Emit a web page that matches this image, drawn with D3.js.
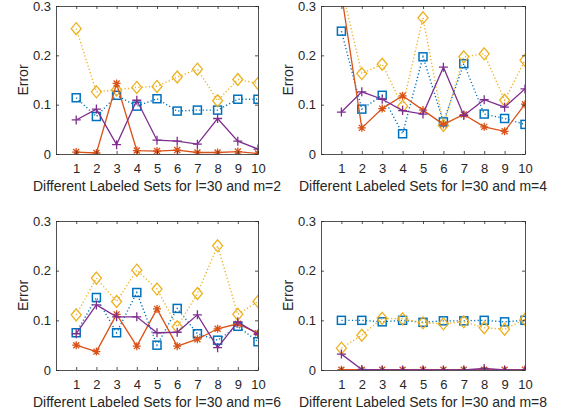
<!DOCTYPE html>
<meta charset="utf-8">
<script src="https://d3js.org/d3.v7.min.js"></script>
<html>
<style>
body { margin: 0; background: #fff; }
text { font-family: "Liberation Sans", Arial, sans-serif; fill: #262626; }
</style>
<body>
<svg id="chart" width="570" height="413"></svg>
<script>

// x positions (labeled sets) and y ticks
var sets = [1, 2, 3, 4, 5, 6, 7, 8, 9, 10];
var yTicks = [0, 0.1, 0.2, 0.3];

// m=2
var squareM2 = [0.114, 0.076, 0.119, 0.097, 0.112, 0.087, 0.089, 0.089, 0.111, 0.111];
var diamondM2 = [0.254, 0.126, 0.130, 0.135, 0.137, 0.156, 0.172, 0.108, 0.151, 0.143];
var starM2 = [0.004, 0.002, 0.143, 0.007, 0.006, 0.008, 0.003, 0.003, 0.005, 0.001];
var plusM2 = [0.069, 0.091, 0.019, 0.109, 0.028, 0.026, 0.020, 0.072, 0.026, 0.010];

// m=4
var squareM4 = [0.249, 0.091, 0.119, 0.041, 0.197, 0.065, 0.183, 0.081, 0.072, 0.060];
var diamondM4 = [0.338, 0.163, 0.182, 0.097, 0.276, 0.058, 0.197, 0.203, 0.109, 0.190];
var starM4 = [0.325, 0.053, 0.092, 0.118, 0.089, 0.060, 0.080, 0.055, 0.046, 0.101];
var plusM4 = [0.085, 0.126, 0.111, 0.088, 0.081, 0.176, 0.078, 0.110, 0.095, 0.132];

// m=6
var squareM6 = [0.075, 0.146, 0.075, 0.156, 0.050, 0.124, 0.073, 0.060, 0.088, 0.057];
var diamondM6 = [0.111, 0.185, 0.138, 0.201, 0.163, 0.087, 0.154, 0.250, 0.112, 0.138];
var starM6 = [0.050, 0.037, 0.112, 0.048, 0.123, 0.048, 0.062, 0.083, 0.093, 0.074];
var plusM6 = [0.073, 0.131, 0.107, 0.107, 0.075, 0.076, 0.111, 0.045, 0.097, 0.072];

// m=8
var squareM8 = [0.100, 0.100, 0.097, 0.100, 0.096, 0.099, 0.099, 0.100, 0.097, 0.100];
var diamondM8 = [0.044, 0.070, 0.104, 0.103, 0.095, 0.093, 0.097, 0.085, 0.082, 0.102];
var starM8 = [0.0005, 0.0005, 0.0005, 0.0005, 0.0005, 0.0005, 0.0005, 0.0005, 0.0005, 0.0005];
var plusM8 = [0.032, 0.001, 0.000, 0.000, 0.000, 0.000, 0.000, 0.003, 0.000, 0.000];

var panels = [
  {m: 2, x0: 56, x1: 258, y0: 6, y1: 154, sq: squareM2, di: diamondM2, st: starM2, pl: plusM2},
  {m: 4, x0: 321, x1: 525, y0: 6, y1: 154, sq: squareM4, di: diamondM4, st: starM4, pl: plusM4},
  {m: 6, x0: 56, x1: 258, y0: 221, y1: 370, sq: squareM6, di: diamondM6, st: starM6, pl: plusM6},
  {m: 8, x0: 321, x1: 525, y0: 221, y1: 370, sq: squareM8, di: diamondM8, st: starM8, pl: plusM8}
];

var svg = d3.select("#chart");
var axisCol = "#262626";

function marker(g, type, color) {
  if (type == "square") {
    g.append("rect").attr("x", -4).attr("y", -4).attr("width", 8).attr("height", 8)
      .attr("fill", "none").attr("stroke", color).attr("stroke-width", 1.5);
  } else if (type == "diamond") {
    g.append("path").attr("d", "M0,-6L5,0L0,6L-5,0Z")
      .attr("fill", "none").attr("stroke", color).attr("stroke-width", 1.3);
  } else if (type == "star") {
    g.append("path").attr("d", "M-4,0H4M0,-4V4M-3,-3L3,3M-3,3L3,-3")
      .attr("stroke", color).attr("stroke-width", 1.3);
  } else {
    g.append("path").attr("d", "M-4.5,0H4.5M0,-4.5V4.5")
      .attr("stroke", color).attr("stroke-width", 1.3);
  }
}

panels.forEach(function(p, i) {
  var x = d3.scaleLinear().domain([0, 10]).range([p.x0, p.x1]);
  var y = d3.scaleLinear().domain([0, 0.3]).range([p.y1, p.y0]);

  var clipId = "clip" + i;
  svg.append("clipPath").attr("id", clipId)
    .append("rect").attr("x", p.x0).attr("y", p.y0)
    .attr("width", p.x1 - p.x0).attr("height", p.y1 - p.y0);

  var series = [
    {vals: p.sq, color: "#0072BD", dash: "1.2,2.3", m: "square"},
    {vals: p.di, color: "#EDB120", dash: "1.2,2.3", m: "diamond"},
    {vals: p.st, color: "#D95319", dash: null, m: "star"},
    {vals: p.pl, color: "#7E2F8E", dash: null, m: "plus"}
  ];

  var plot = svg.append("g").attr("clip-path", "url(#" + clipId + ")");
  var line = d3.line().x(function(d, j) { return x(sets[j]); }).y(function(d) { return y(d); });

  series.forEach(function(s) {
    plot.append("path").datum(s.vals)
      .attr("d", line)
      .attr("fill", "none")
      .attr("stroke", s.color)
      .attr("stroke-width", s.dash ? 1.4 : 1.3)
      .attr("stroke-dasharray", s.dash);
    s.vals.forEach(function(v, j) {
      var g = plot.append("g").attr("transform", "translate(" + x(sets[j]) + "," + y(v) + ")");
      marker(g, s.m, s.color);
    });
  });

  // axes (box with inward ticks, like MATLAB)
  var ax = svg.append("g");
  ax.append("g").attr("transform", "translate(0," + p.y1 + ")")
    .call(d3.axisBottom(x).tickValues(sets).tickSizeInner(-3).tickSizeOuter(0).tickPadding(9.5));
  ax.append("g").attr("transform", "translate(0," + p.y0 + ")")
    .call(d3.axisTop(x).tickValues(sets).tickSizeInner(-3).tickSizeOuter(0).tickFormat(""));
  ax.append("g").attr("transform", "translate(" + p.x0 + ",0)")
    .call(d3.axisLeft(y).tickValues(yTicks).tickSizeInner(-3).tickSizeOuter(0).tickPadding(5)
      .tickFormat(function(d) { return d == 0 ? "0" : d3.format(".1f")(d); }));
  ax.append("g").attr("transform", "translate(" + p.x1 + ",0)")
    .call(d3.axisRight(y).tickValues(yTicks).tickSizeInner(-3).tickSizeOuter(0).tickFormat(""));

  ax.selectAll(".domain").attr("stroke", axisCol).attr("stroke-width", 0.8);
  ax.selectAll(".tick line").attr("stroke", axisCol).attr("stroke-width", 0.8);
  ax.selectAll(".tick text").attr("fill", axisCol).style("font-size", "13px")
    .style("font-family", "Liberation Sans, Arial, sans-serif");

  svg.append("text")
    .attr("x", (p.x0 + p.x1) / 2)
    .attr("y", p.y1 + 37)
    .style("font-size", "14px")
    .attr("text-anchor", "middle")
    .text("Different Labeled Sets for l=30 and m=" + p.m);

  svg.append("text")
    .attr("transform", "translate(" + (p.x0 - 28) + "," + ((p.y0 + p.y1) / 2) + ") rotate(-90)")
    .style("font-size", "14px")
    .attr("text-anchor", "middle")
    .text("Error");
});

</script>
</body>
</html>
